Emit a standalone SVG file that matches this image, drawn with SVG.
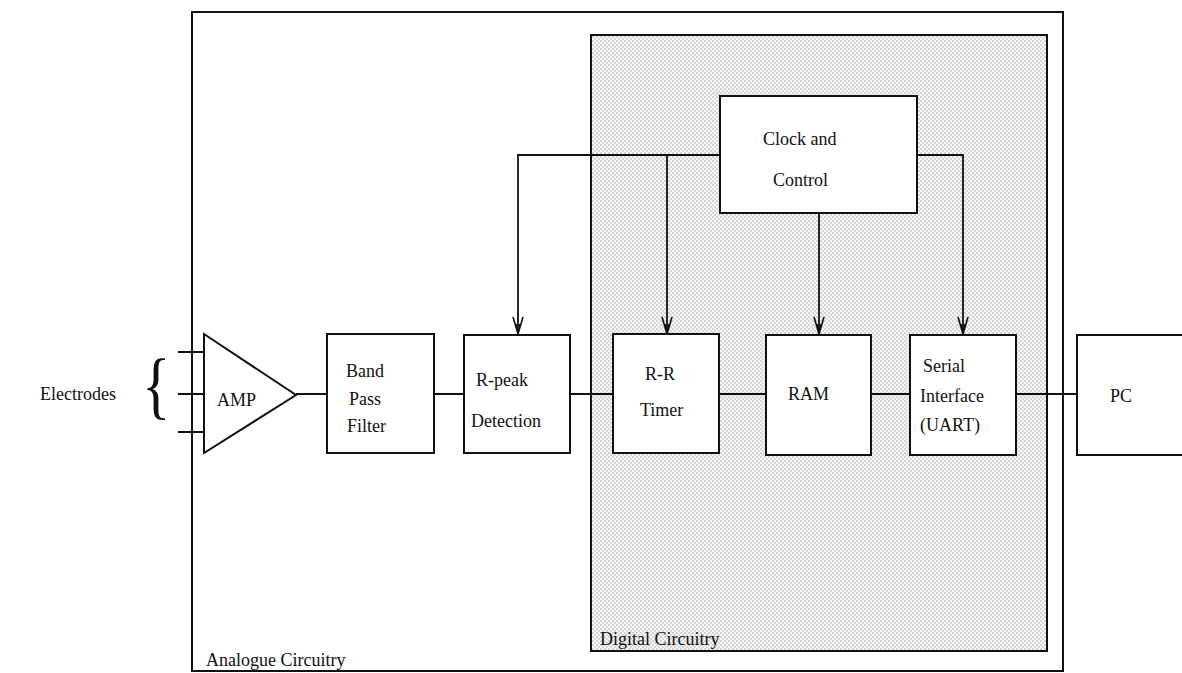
<svg xmlns="http://www.w3.org/2000/svg" width="1182" height="673" viewBox="0 0 1182 673">
<defs>
<pattern id="dots" width="4" height="4" patternUnits="userSpaceOnUse">
<rect width="4" height="4" fill="#f6f6f6"/>
<circle cx="1" cy="1" r="0.8" fill="#a8a8a8"/>
<circle cx="3" cy="3" r="0.8" fill="#b4b4b4"/>
</pattern>
<marker id="v" markerWidth="22" markerHeight="14" viewBox="-19 -7 22 14" refX="0" refY="0" markerUnits="userSpaceOnUse" orient="auto">
<path d="M-17,-5 L0,0 L-17,5 M0,0 L-10,-2 M0,0 L-10,2" fill="none" stroke="#111" stroke-width="1.6"/>
</marker>
</defs>
<style>
.box{fill:#fff;stroke:#111;stroke-width:2}
.ln{fill:none;stroke:#111;stroke-width:1.8}
text{font-family:"Liberation Serif","Times New Roman",serif;font-size:18px;fill:#111}
</style>
<rect width="1182" height="673" fill="#fff"/>
<g id="analogue">
<rect x="192" y="12" width="871" height="659" fill="#fff" stroke="#111" stroke-width="2"/>
<text x="206" y="666">Analogue Circuitry</text>
</g>
<g id="digital">
<rect x="591" y="35" width="456" height="616" fill="url(#dots)" stroke="#111" stroke-width="2"/>
<text x="600" y="645">Digital Circuitry</text>
</g>
<g id="connectors">
<path class="ln" d="M178,352 H204 M178,394 H204 M178,432 H204"/>
<path class="ln" d="M296,394 H327 M434,394 H464 M570,394 H613 M719,394 H766 M871,394 H910 M1016,394 H1077"/>
<path class="ln" d="M720,155 H518 V334" marker-end="url(#v)"/>
<path class="ln" d="M667,155 V334" marker-end="url(#v)"/>
<path class="ln" d="M917,155 H963 V334" marker-end="url(#v)"/>
<path class="ln" d="M819,213 V334" marker-end="url(#v)"/>
</g>
<g id="electrodes">
<text x="40" y="400">Electrodes</text>
<text x="0" y="0" transform="translate(142,410) scale(0.8,1)" style="font-size:74px">{</text>
</g>
<g id="amp">
<polygon points="204,334 296,395 204,453" class="box"/>
<text x="217" y="406">AMP</text>
</g>
<g id="bpf">
<rect x="327" y="334" width="107" height="119" class="box"/>
<text x="346" y="377">Band</text>
<text x="349" y="405">Pass</text>
<text x="347" y="432">Filter</text>
</g>
<g id="rpeak">
<rect x="464" y="335" width="106" height="118" class="box"/>
<text x="476" y="386">R-peak</text>
<text x="471" y="427">Detection</text>
</g>
<g id="rrtimer">
<rect x="613" y="334" width="106" height="119" class="box"/>
<text x="645" y="380">R-R</text>
<text x="640" y="416">Timer</text>
</g>
<g id="ram">
<rect x="766" y="335" width="105" height="120" class="box"/>
<text x="788" y="400">RAM</text>
</g>
<g id="serial">
<rect x="910" y="335" width="106" height="120" class="box"/>
<text x="923" y="372">Serial</text>
<text x="920" y="402">Interface</text>
<text x="920" y="431">(UART)</text>
</g>
<g id="pc">
<rect x="1077" y="335" width="110" height="120" class="box"/>
<text x="1110" y="402">PC</text>
</g>
<g id="clock">
<rect x="720" y="96" width="197" height="117" class="box"/>
<text x="763" y="145">Clock and</text>
<text x="773" y="186">Control</text>
</g>
</svg>
